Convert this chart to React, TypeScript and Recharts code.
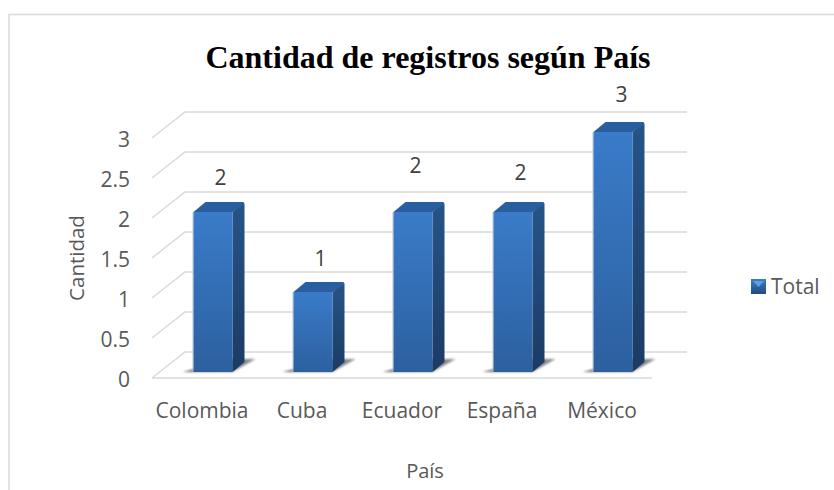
import {
  ComposedChart,
  Bar,
  XAxis,
  YAxis,
  CartesianGrid,
  LabelList,
  Legend,
  Label,
} from 'recharts';

const countries = ['Colombia', 'Cuba', 'Ecuador', 'España', 'México'];
const totals = [2, 1, 2, 2, 3];
const yTicks = [0, 0.5, 1, 1.5, 2, 2.5, 3];

const chartData = countries.map((pais, i) => ({ pais, Total: totals[i] }));

// fake 3D: how far the bars and the back wall sit from the front plane
const BAR_SHIFT_X = 10.5;
const BAR_SHIFT_Y = 6;
const DEPTH_X = 12;
const DEPTH_Y = 10;
const WALL_X = 33;
const WALL_Y = 26;

// the data labels were moved by hand in the original
const labelNudgeX = [7.5, 7.5, 2.5, 7.5, 8.5];
const labelGap = [35, 34, 47, 40, 38];

const FONT = '"Open Sans", sans-serif';
const TEXT = '#595959';

const Bar3D = (props: any) => {
  const { x, y, width, height } = props;
  const fx = x + BAR_SHIFT_X;
  const fy = y - BAR_SHIFT_Y;
  const bottom = fy + height;
  const right = fx + width;
  return (
    <g>
      <polygon
        points={`${fx - 11},${bottom} ${right},${bottom} ${right + DEPTH_X + 11},${bottom - 13} ${right},${bottom - 13}`}
        fill="url(#floorShadow)"
        filter="url(#soft)"
      />
      <polygon
        points={`${right},${fy} ${right + DEPTH_X - 1},${fy - DEPTH_Y + 1} ${right + DEPTH_X},${fy - DEPTH_Y + 2} ${right + DEPTH_X},${bottom - DEPTH_Y} ${right},${bottom}`}
        fill="url(#barSide)"
      />
      <polygon
        points={`${fx},${fy} ${fx + DEPTH_X},${fy - DEPTH_Y} ${right + DEPTH_X - 1},${fy - DEPTH_Y} ${right + DEPTH_X},${fy - DEPTH_Y + 2} ${right},${fy}`}
        fill="#2a5f9f"
      />
      <rect x={fx - 1} y={fy} width={1} height={height} fill="#b9c3cf" />
      <rect x={fx} y={fy} width={width} height={height} fill="url(#barFront)" />
    </g>
  );
};

// each grid line runs up the side wall and then along the back wall
const WallLine = (props: any) => {
  const { x1, x2, y1 } = props;
  return (
    <polyline
      key={props.key}
      points={`${x1},${y1} ${x1 + WALL_X},${y1 - WALL_Y} ${x2 + WALL_X + 2},${y1 - WALL_Y}`}
      fill="none"
      stroke="#d9d9d9"
      strokeWidth={1.5}
    />
  );
};

const DataLabel = (props: any) => {
  const { x, y, width, value, index } = props;
  return (
    <text
      x={x + BAR_SHIFT_X + width / 2 + labelNudgeX[index]}
      y={y - BAR_SHIFT_Y - labelGap[index]}
      textAnchor="middle"
      dominantBaseline="central"
      fontFamily={FONT}
      fontSize={21}
      fill="#404040"
    >
      {value}
    </text>
  );
};

const LegendBox = ({ payload }: any) => (
  <div style={{ display: 'flex', alignItems: 'center', fontFamily: FONT, fontSize: 21, color: TEXT }}>
    {(payload || []).map((entry: any) => (
      <span key={entry.value} style={{ display: 'flex', alignItems: 'center' }}>
        <svg width={15} height={15} style={{ marginRight: 5 }}>
          <rect width={15} height={15} fill="url(#legendBox)" />
          <polygon points="2,2 13,2 7.5,8" fill="#5b9fe8" />
        </svg>
        {entry.value}
      </span>
    ))}
  </div>
);

export default function App() {
  return (
    <div style={{ position: 'absolute', left: 0, top: 0, width: 834, height: 490, background: '#fff' }}>
      <ComposedChart
        width={834}
        height={490}
        data={chartData}
        margin={{ top: 138, right: 182, bottom: 0, left: 0 }}
      >
        <defs>
          <linearGradient id="barFront" x1="0" y1="0" x2="0" y2="1">
            <stop offset="0%" stopColor="#3a7bc9" />
            <stop offset="100%" stopColor="#2c609f" />
          </linearGradient>
          <linearGradient id="barSide" x1="0" y1="0" x2="0" y2="1">
            <stop offset="0%" stopColor="#265488" />
            <stop offset="100%" stopColor="#1b3b64" />
          </linearGradient>
          <linearGradient id="legendBox" x1="0" y1="0" x2="0" y2="1">
            <stop offset="0%" stopColor="#3f7fc9" />
            <stop offset="100%" stopColor="#1f4a7d" />
          </linearGradient>
          <linearGradient id="floorShadow" x1="0" y1="1" x2="1" y2="0">
            <stop offset="0%" stopColor="#6e6e6e" />
            <stop offset="100%" stopColor="#8c8c8c" />
          </linearGradient>
          <filter id="soft" x="-20%" y="-50%" width="140%" height="200%">
            <feGaussianBlur stdDeviation="0.8" />
          </filter>
        </defs>

        <line x1={9} y1={14.5} x2={834} y2={14.5} stroke="#d9d9d9" strokeWidth={1.5} />
        <line x1={9} y1={14} x2={9} y2={490} stroke="#d9d9d9" strokeWidth={1.5} />
        <text
          x={428}
          y={57}
          textAnchor="middle"
          dominantBaseline="central"
          fontFamily='"Liberation Serif", serif'
          fontWeight="bold"
          fontSize={32}
          fill="#000"
        >
          Cantidad de registros según País
        </text>

        <CartesianGrid vertical={false} horizontal={WallLine as any} />
        <XAxis
          dataKey="pais"
          height={112}
          axisLine={{ stroke: '#d9d9d9', strokeWidth: 1.5 }}
          tickLine={false}
          interval={0}
          tickMargin={19}
          tick={{ fontFamily: FONT, fontSize: 21, fill: TEXT }}
        >
          <Label
            value="País"
            position="insideBottom"
            offset={12}
            dx={23}
            style={{ fontFamily: FONT, fontSize: 20, fill: TEXT }}
          />
        </XAxis>
        <YAxis
          width={152}
          domain={[0, 3]}
          ticks={yTicks}
          axisLine={false}
          tickLine={false}
          tickMargin={16}
          tick={{ fontFamily: FONT, fontSize: 21, fill: TEXT, dy: 2 }}
        >
          <Label
            value="Cantidad"
            angle={-90}
            position="insideLeft"
            offset={77}
            style={{ fontFamily: FONT, fontSize: 20.5, fill: TEXT, textAnchor: 'middle' }}
          />
        </YAxis>
        <Legend
          layout="horizontal"
          align="center"
          verticalAlign="middle"
          content={LegendBox as any}
          wrapperStyle={{ position: 'absolute', left: 751, top: 272, width: 83, bottom: 'auto' }}
        />
        <Bar dataKey="Total" name="Total" barSize={39} shape={Bar3D as any} isAnimationActive={false}>
          <LabelList dataKey="Total" content={DataLabel as any} />
        </Bar>
      </ComposedChart>
    </div>
  );
}
